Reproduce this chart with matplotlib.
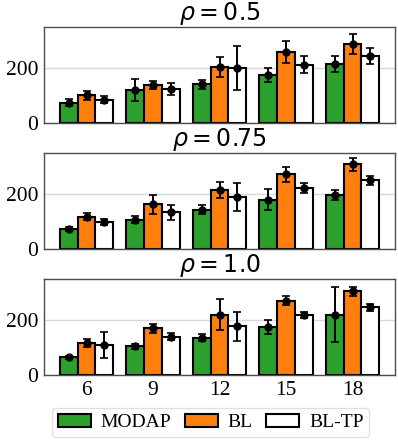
import numpy as np
import matplotlib
matplotlib.use("Agg")
import matplotlib.pyplot as plt
from matplotlib.patches import Patch

categories = ["6", "9", "12", "15", "18"]
methods = ["MODAP", "BL", "BL-TP"]
colors = ["#2ca02c", "#ff7f0e", "#ffffff"]
rhos = ["0.5", "0.75", "1.0"]

# rho = 0.5
modap_05 = [75, 121, 141, 175, 217]
modap_05_err = [12, 40, 17, 25, 29]
bl_05 = [101, 139, 205, 259, 289]
bl_05_err = [17, 16, 36, 40, 36]
bltp_05 = [86, 125, 201, 213, 245]
bltp_05_err = [14, 22, 81, 32, 30]

# rho = 0.75
modap_075 = [72, 106, 143, 179, 196]
modap_075_err = [7, 13, 16, 39, 19]
bl_075 = [117, 162, 215, 271, 308]
bl_075_err = [13, 35, 29, 26, 23]
bltp_075 = [98, 133, 189, 221, 249]
bltp_075_err = [10, 27, 50, 19, 16]

# rho = 1.0
modap_10 = [66, 106, 138, 176, 221]
modap_10_err = [6, 10, 14, 24, 99]
bl_10 = [118, 171, 221, 272, 306]
bl_10_err = [16, 17, 56, 16, 17]
bltp_10 = [110, 141, 179, 219, 247]
bltp_10_err = [47, 13, 52, 11, 14]

panels = [
    ([modap_05, bl_05, bltp_05], [modap_05_err, bl_05_err, bltp_05_err]),
    ([modap_075, bl_075, bltp_075], [modap_075_err, bl_075_err, bltp_075_err]),
    ([modap_10, bl_10, bltp_10], [modap_10_err, bl_10_err, bltp_10_err]),
]

fig = plt.figure(figsize=(3.98, 4.40), dpi=100)
bottoms = [0.7198, 0.434, 0.1466]
height = 0.219
left, width = 0.1106, 0.882

serif = "Liberation Serif"
x = np.arange(len(categories))
bw = 0.8 / 3

for k, (vals, errs) in enumerate(panels):
    ax = fig.add_axes([left, bottoms[k], width, height])
    for j in range(3):
        pos = x + (j - 1) * bw
        ax.bar(pos, vals[j], width=bw, color=colors[j], edgecolor="black",
               linewidth=1.5, zorder=2)
        ax.errorbar(pos, vals[j], yerr=errs[j], fmt="o", color="black",
                    markersize=5, elinewidth=1.4, capsize=3, capthick=1.2,
                    zorder=3)
    ax.set_ylim(0, 350)
    ax.set_yticks([0, 200])
    ax.set_xticks(x)
    if k == 2:
        ax.set_xticklabels(categories, fontfamily=serif, fontsize=15.5)
    else:
        ax.set_xticklabels([])
    for lab in ax.get_yticklabels():
        lab.set_fontfamily(serif)
        lab.set_fontsize(15.5)
    ax.tick_params(length=0, pad=4)
    ax.grid(axis="y", color="0.85", linewidth=1.0, zorder=0)
    ax.set_axisbelow(True)
    for s in ax.spines.values():
        s.set_color("0.3")
        s.set_linewidth(1.0)
    ax.set_title(r"$\rho = %s$" % rhos[k], fontsize=17, pad=4)

handles = [Patch(facecolor=c, edgecolor="black", linewidth=1.5) for c in colors]
fig.legend(handles, methods, loc="center", bbox_to_anchor=(0.529, 0.04),
           ncol=3, prop={"family": serif, "size": 14}, handlelength=1.7,
           columnspacing=0.7, handletextpad=0.5, borderpad=0.3,
           edgecolor="0.85")

fig.savefig("out.png", dpi=100)
